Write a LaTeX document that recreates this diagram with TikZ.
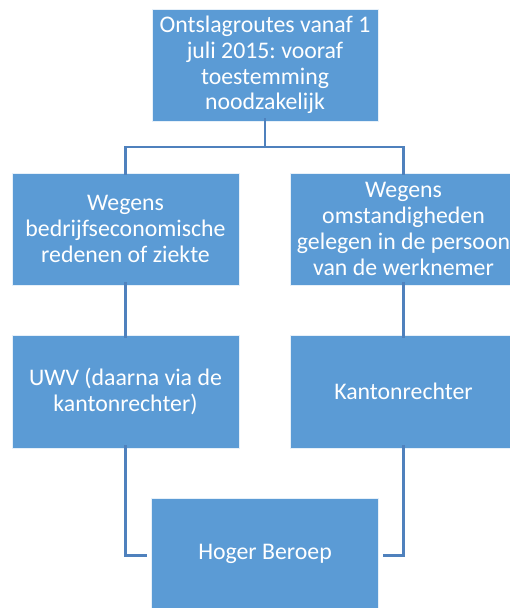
\documentclass[tikz,border=0pt]{standalone}
\usepackage{fontspec}
\setmainfont{Carlito}
\frenchspacing
\definecolor{boxblue}{HTML}{5B9BD5}
\definecolor{lineblue}{HTML}{4F81BD}
\begin{document}
\begin{tikzpicture}[x=1pt,y=-1pt,
  card/.style={draw=white!85!boxblue, line width=0.8pt, fill=boxblue, text=white,
    align=center, inner sep=0pt, font=\fontsize{23.8}{25.8}\selectfont},
  link/.style={draw=lineblue, line width=2.2pt}]
\useasboundingbox (0,0) rectangle (510,608);
\node[card, minimum width=226, minimum height=112] (top) at (265,65) {Ontslagroutes vanaf 1\\juli 2015: vooraf\\toestemming\\noodzakelijk};
\node[card, minimum width=227, minimum height=112] (l1) at (125.5,229) {Wegens\\bedrijfseconomische\\redenen of ziekte};
\node[card, minimum width=227, minimum height=112] (r1) at (403.5,229) {Wegens\\omstandigheden\\gelegen in de persoon\\van de werknemer};
\node[card, minimum width=227, minimum height=113] (l2) at (125.5,391.5) {UWV (daarna via de\\kantonrechter)};
\node[card, minimum width=227, minimum height=113] (r2) at (403.5,391.5) {Kantonrechter};
\node[card, minimum width=227, minimum height=112, anchor=north] (bot) at (265,498) {Hoger Beroep};
\coordinate (hub) at (265,147);
\draw[link] ([yshift=3]top.south) -- (hub);
\draw[link] ([yshift=-2]l1.north) |- (hub) -| ([yshift=-2]r1.north);
\draw[link] ([yshift=3]l1.south) -- ([yshift=-3]l2.north);
\draw[link] ([yshift=3]r1.south) -- ([yshift=-3]r2.north);
\draw[link] ([yshift=3]l2.south) |- ([xshift=-4,yshift=-1]bot.west);
\draw[link] ([yshift=3]r2.south) |- ([xshift=4,yshift=-1]bot.east);
\end{tikzpicture}
\end{document}
